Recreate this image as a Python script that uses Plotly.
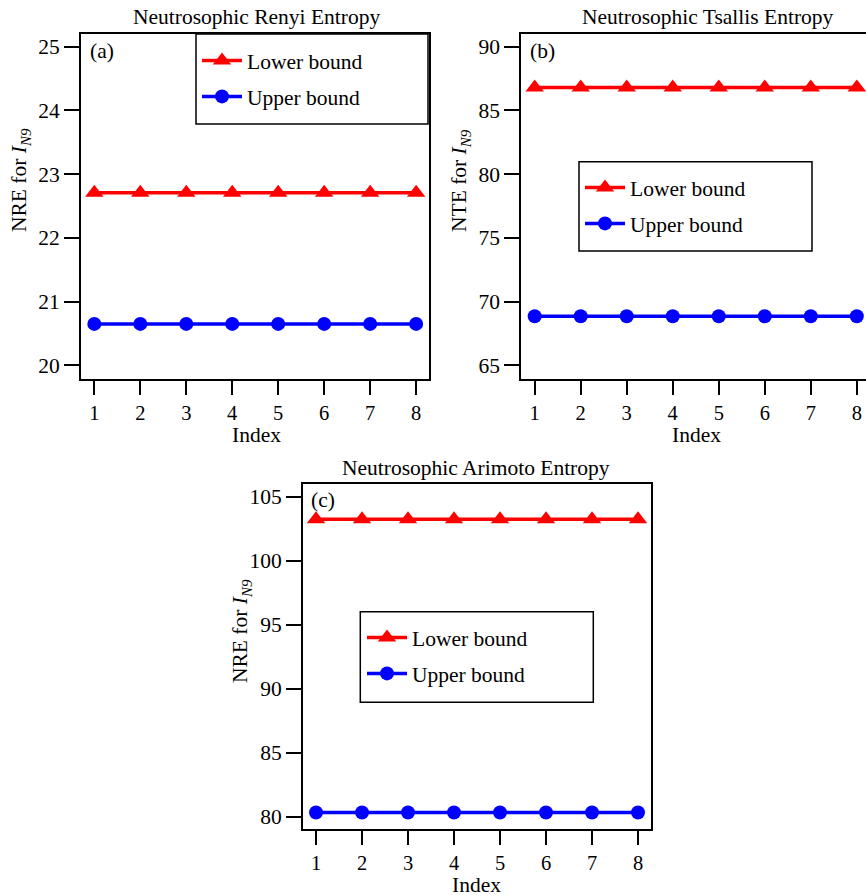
import plotly.graph_objects as go

W, H = 866, 895

index = [1, 2, 3, 4, 5, 6, 7, 8]
renyi_lower = [22.71] * 8
renyi_upper = [20.65] * 8
tsallis_lower = [86.81] * 8
tsallis_upper = [68.85] * 8
arimoto_lower = [103.23] * 8
arimoto_upper = [80.31] * 8

titles = ["Neutrosophic Renyi Entropy", "Neutrosophic Tsallis Entropy", "Neutrosophic Arimoto Entropy"]
panel_tags = ["(a)", "(b)", "(c)"]
ylabels = ["NRE for <i>I</i><sub><i>N9</i></sub>", "NTE for <i>I</i><sub><i>N9</i></sub>",
           "NRE for <i>I</i><sub><i>N9</i></sub>"]
xlabel = "Index"
series_names = ["Lower bound", "Upper bound"]

FONT = "Liberation Serif, Times New Roman, serif"
FS = 21.5
RED = "#ff0000"
BLUE = "#0000ff"

def px_x(v):
    return v / W

def px_y(v):
    return 1 - v / H

fig = go.Figure()

data = [
    (renyi_lower, renyi_upper, "x", "y", "legend"),
    (tsallis_lower, tsallis_upper, "x2", "y2", "legend2"),
    (arimoto_lower, arimoto_upper, "x3", "y3", "legend3"),
]
for lo, up, xa, ya, lg in data:
    fig.add_trace(go.Scatter(x=index, y=lo, xaxis=xa, yaxis=ya, name=series_names[0],
                             mode="lines+markers", legend=lg, legendgroup=lg + "a",
                             line=dict(color=RED, width=3.5),
                             marker=dict(symbol="triangle-up", size=16, color=RED)))
    fig.add_trace(go.Scatter(x=index, y=up, xaxis=xa, yaxis=ya, name=series_names[1],
                             mode="lines+markers", legend=lg, legendgroup=lg + "b",
                             line=dict(color=BLUE, width=3.5),
                             marker=dict(symbol="circle", size=14, color=BLUE)))

axis_common = dict(showgrid=False, zeroline=False, showline=True, linecolor="black", linewidth=2,
                   ticks="outside", ticklen=15, tickwidth=2, tickcolor="black",
                   tickfont=dict(family=FONT, size=FS, color="black"))

# panel geometry in pixels: left, right, top, bottom
geo = [(81, 429, 34, 379), (521.3, 866, 34, 379), (303, 650.7, 483.7, 829.3)]
xranges = [[0.71, 8.28], [0.709, 8.2], [0.717, 8.276]]
yranges = [[19.785, 25.2], [63.93, 91.0], [79.0, 106.0]]
ytickvals = [[20, 21, 22, 23, 24, 25], [65, 70, 75, 80, 85, 90], [80, 85, 90, 95, 100, 105]]

layout = dict(width=W, height=H, margin=dict(l=0, r=0, t=0, b=0),
              paper_bgcolor="white", plot_bgcolor="white",
              font=dict(family=FONT, size=FS, color="black"))
for i in range(3):
    l, r, t, b = geo[i]
    sx = "" if i == 0 else str(i + 1)
    xa = dict(axis_common, domain=[px_x(l), min(px_x(r), 1.0)], range=xranges[i],
              tickvals=index, mirror=True, anchor="y" + sx, ticklen=14,
              tickfont=dict(family=FONT, size=20.5, color="black"))
    ya = dict(axis_common, domain=[px_y(b), px_y(t)], range=yranges[i],
              tickvals=ytickvals[i], mirror=(i != 1), anchor="x" + sx)
    layout["xaxis" + sx] = xa
    layout["yaxis" + sx] = ya

legend_common = dict(bgcolor="rgba(0,0,0,0)", borderwidth=0,
                     font=dict(family=FONT, size=FS, color="black"),
                     tracegroupgap=5, itemwidth=40, xanchor="left", yanchor="top")
legend_pos = [(197, 40), (580, 167), (362, 617)]
for i, (lx, ly) in enumerate(legend_pos):
    key = "legend" if i == 0 else "legend" + str(i + 1)
    layout[key] = dict(legend_common, x=px_x(lx), y=px_y(ly))

# legend frames
legend_boxes = [(196, 428, 34, 124), (579, 812, 161.7, 251), (360.3, 593.3, 611.7, 702.3)]
shapes = []
for (x0, x1, y0, y1) in legend_boxes:
    shapes.append(dict(type="rect", xref="paper", yref="paper",
                       x0=px_x(x0), x1=px_x(x1), y0=px_y(y1), y1=px_y(y0),
                       line=dict(color="black", width=1.5), fillcolor="rgba(0,0,0,0)",
                       layer="above"))
layout["shapes"] = shapes

fig.update_layout(**layout)

ann = []
title_pos = [(256, 17), (708, 17), (476, 468)]
tag_pos = [(88, 51), (528, 51), (309, 500)]
ylab_pos = [(20, 180), (460, 180), (241, 631)]
xlab_pos = [(256, 435), (696, 435), (477, 885)]
for i in range(3):
    ann.append(dict(text=titles[i], x=px_x(title_pos[i][0]), y=px_y(title_pos[i][1]),
                    xref="paper", yref="paper", showarrow=False, xanchor="center", yanchor="middle",
                    font=dict(family=FONT, size=FS, color="black")))
    ann.append(dict(text=panel_tags[i], x=px_x(tag_pos[i][0]), y=px_y(tag_pos[i][1]),
                    xref="paper", yref="paper", showarrow=False, xanchor="left", yanchor="middle",
                    font=dict(family=FONT, size=FS, color="black")))
    ann.append(dict(text=ylabels[i], x=px_x(ylab_pos[i][0]), y=px_y(ylab_pos[i][1]),
                    xref="paper", yref="paper", showarrow=False, xanchor="center", yanchor="middle",
                    textangle=-90, font=dict(family=FONT, size=FS, color="black")))
    ann.append(dict(text=xlabel, x=px_x(xlab_pos[i][0]), y=px_y(xlab_pos[i][1]),
                    xref="paper", yref="paper", showarrow=False, xanchor="center", yanchor="middle",
                    font=dict(family=FONT, size=FS, color="black")))
fig.update_layout(annotations=ann)

fig.write_html("out.html", config={"displayModeBar": False},
               post_script="document.body.style.margin='0px';document.body.style.padding='0px';")
